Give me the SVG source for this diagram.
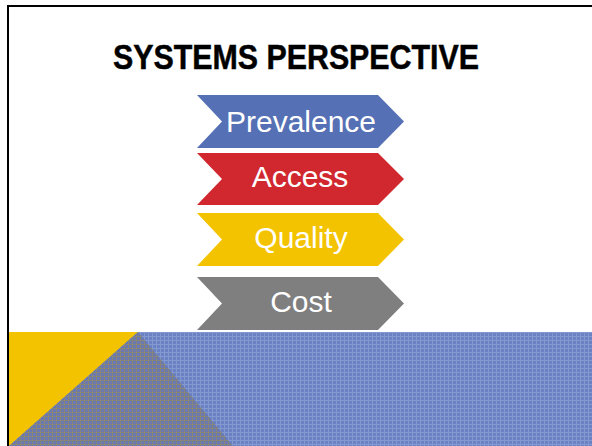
<svg xmlns="http://www.w3.org/2000/svg" width="592" height="446" viewBox="0 0 592 446">
<defs>
<style>
.lbl{font-family:"Liberation Sans",Arial,sans-serif;font-size:30px;fill:#fff;text-anchor:middle}
.title{font-family:"Liberation Sans",Arial,sans-serif;font-size:35px;font-weight:bold;fill:#000;stroke:#000;stroke-width:0.5}
</style>
<pattern id="blue" width="4" height="4" patternUnits="userSpaceOnUse">
<rect width="4" height="4" fill="#6A82C4"/>
<rect x="0" y="0" width="4" height="1" fill="#8399D0"/>
<rect x="0" y="0" width="1" height="4" fill="#8399D0"/>
</pattern>
<pattern id="mix" width="4" height="4" patternUnits="userSpaceOnUse">
<rect width="4" height="4" fill="#6B79B0"/>
<rect x="0" y="0" width="4" height="1" fill="#86857A"/>
<rect x="0" y="0" width="1" height="4" fill="#86857A"/>
</pattern>
</defs>
<rect width="592" height="446" fill="#fff"/>
<g id="frame">
<line x1="7" y1="6" x2="592" y2="6" stroke="#000" stroke-width="2"/>
<line x1="8" y1="6" x2="8" y2="446" stroke="#000" stroke-width="2"/>
</g>
<g id="band">
<rect x="9" y="332" width="583" height="114" fill="url(#blue)"/>
<polygon points="9,332 138,332 9,446" fill="#F4C300"/>
<polygon points="138,332 233,446 9,446" fill="url(#mix)"/>
</g>
<text class="title" x="113" y="69" textLength="366" lengthAdjust="spacingAndGlyphs">SYSTEMS PERSPECTIVE</text>
<g id="prevalence">
<polygon points="197,95 378,95 404,121.5 378,148 197,148 222,121.5" fill="#5570B4"/>
<text class="lbl" x="301" y="131.5">Prevalence</text>
</g>
<g id="access">
<polygon points="197,153 378,153 404,179 378,205 197,205 222,179" fill="#D1272E"/>
<text class="lbl" x="300" y="187">Access</text>
</g>
<g id="quality">
<polygon points="197,213 378,213 404,239.5 378,266 197,266 222,239.5" fill="#F4C300"/>
<text class="lbl" x="301" y="248">Quality</text>
</g>
<g id="cost">
<polygon points="197,277 378,277 404,303.5 378,330 197,330 222,303.5" fill="#7F7F7F"/>
<text class="lbl" x="301" y="312">Cost</text>
</g>
<g id="connectors"/>
</svg>
